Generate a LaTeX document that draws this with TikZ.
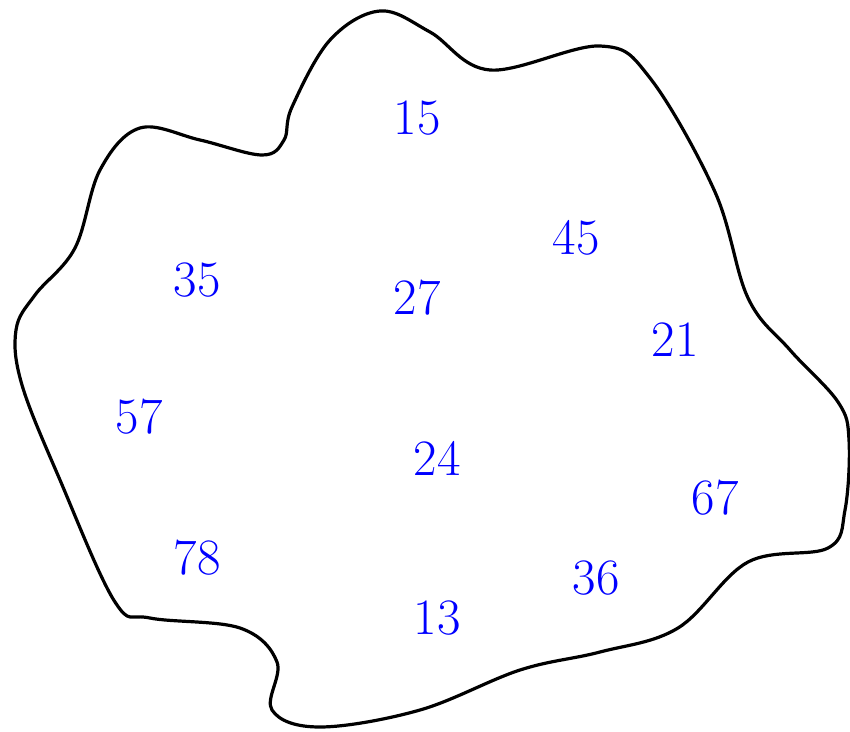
\documentclass[tikz,border=0pt]{standalone}
\begin{document}
\begin{tikzpicture}[x=1pt,y=-1pt,
  num/.style={text=blue,font=\fontsize{51}{60}\selectfont,inner sep=0pt}]
\useasboundingbox (0,0) rectangle (850,731);
\draw[line width=3.2pt,line join=round] plot[smooth cycle,tension=0.6] coordinates {
 (292,107) (330,40) (380,11) (430,32) (490,70) (600,46) (650,78) (715,192)
 (748,298) (790,350) (838,402) (849,440) (845,510) (828,548) (748,562)
 (678,628) (600,652) (520,670) (420,710) (320,727) (272,710) (277,662) (240,628)
 (150,618) (115,602) (60,480) (22,385) (16,330) (35,295) (75,248) (100,170) (140,128)
 (200,140) (262,155) (284,140)};
\node[num] (n15) at (417,118) {15};
\node[num] (n45) at (576,238) {45};
\node[num] (n35) at (197,280) {35};
\node[num] (n27) at (417,298) {27};
\node[num] (n21) at (675,340) {21};
\node[num] (n57) at (139,417) {57};
\node[num] (n24) at (437,458) {24};
\node[num] (n67) at (715,498) {67};
\node[num] (n78) at (197,558) {78};
\node[num] (n36) at (596,578) {36};
\node[num] (n13) at (437,618) {13};
\end{tikzpicture}
\end{document}
